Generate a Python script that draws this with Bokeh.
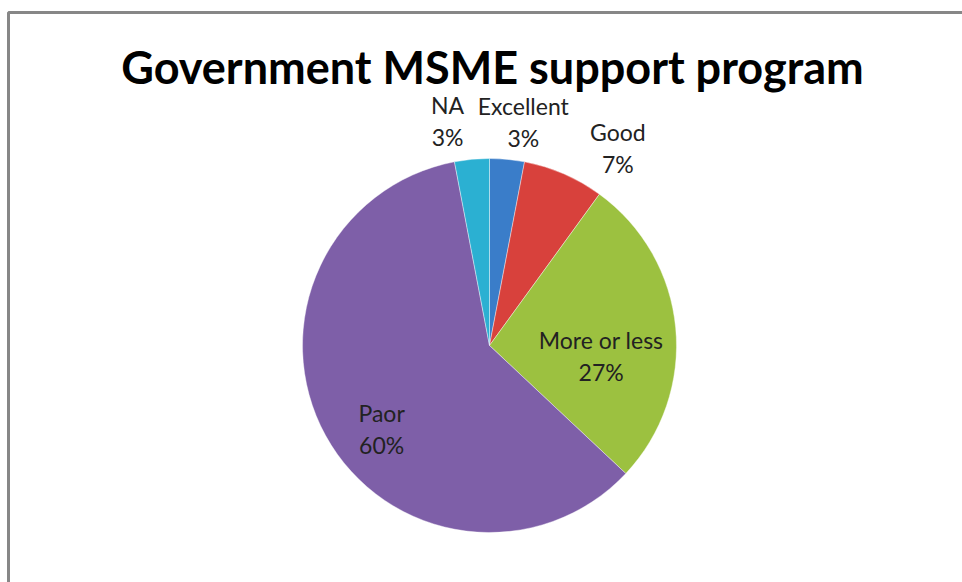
import math
from bokeh.plotting import figure
from bokeh.models import Range1d, BoxAnnotation, ColumnDataSource
from bokeh.core.properties import value
from bokeh.embed import file_html
from bokeh.resources import INLINE

# ---- data ----
categories = ["Excellent", "Good", "More or less", "Poor", "NA"]
percents = [3, 7, 27, 60, 3]
colors = ["#3A7DC9", "#D8413C", "#9CC140", "#7E5FA8", "#2BB0D2"]
title_text = "Government MSME support program"

# ---- layout ----
W, H = 962, 582
CX, CY, R = 489, 582 - 345, 187
# label placement: radial factor (of R) and angle tweak (deg, clockwise)
label_rf = [1.21, 1.26, 0.60, 0.73, 1.22]
label_dang = [3.2, 9.6, 11.0, -9.0, -5.2]
LINE_GAP = 32

total = float(sum(percents))
starts, ends, mids = [], [], []
cum = 0.0
for v in percents:
    a0 = math.pi / 2 - 2 * math.pi * cum / total
    cum += v
    a1 = math.pi / 2 - 2 * math.pi * cum / total
    starts.append(a0)
    ends.append(a1)
    mids.append((a0 + a1) / 2)

p = figure(width=W, height=H, x_range=Range1d(0, W), y_range=Range1d(0, H),
           output_backend="svg", toolbar_location=None, min_border=0,
           background_fill_color="white", border_fill_color="white")
p.axis.visible = False
p.grid.visible = False
p.outline_line_color = None

# chart border (extends beyond right / bottom)
p.add_layout(BoxAnnotation(left=8, right=W + 20, top=H - 12, bottom=-20,
                           fill_alpha=0, line_color="#878787", line_alpha=1.0,
                           line_width=3))

src = ColumnDataSource(dict(start=starts, end=ends, color=colors))
p.wedge(x=CX, y=CY, radius=R, start_angle="start", end_angle="end",
        direction="clock", fill_color="color", line_color="white",
        line_width=0.4, source=src)

# labels
lx, ly1, ly2, t1, t2 = [], [], [], [], []
for i, c in enumerate(categories):
    ang = mids[i] - math.radians(label_dang[i])
    x = CX + R * label_rf[i] * math.cos(ang)
    y = CY + R * label_rf[i] * math.sin(ang)
    lx.append(x)
    ly1.append(y + LINE_GAP / 2)
    ly2.append(y - LINE_GAP / 2)
    t1.append("Paor" if c == "Poor" else c)
    t2.append(f"{percents[i]}%")

p.text(x=lx, y=ly1, text=t1, text_font=value("Lato"), text_font_size="23px",
       text_align="center", text_baseline="middle", text_color="#222222")
p.text(x=lx, y=ly2, text=t2, text_font=value("Lato"), text_font_size="23px",
       text_align="center", text_baseline="middle", text_color="#222222")

# title
p.text(x=[492], y=[H - 66], text=[title_text], text_font=value("Lato"),
       text_font_size="45px", text_font_style="bold", text_align="center",
       text_baseline="middle", text_color="#000000")

open("out.html", "w").write(file_html(p, INLINE))
